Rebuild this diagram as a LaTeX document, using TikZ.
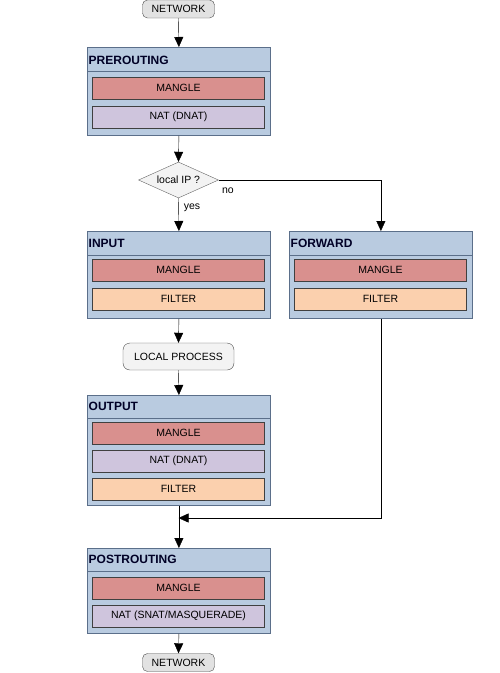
\documentclass[tikz,border=0pt]{standalone}
\usepackage{fontspec}
\setmainfont{Liberation Sans}
\usetikzlibrary{arrows.meta,shapes.geometric,positioning}
\definecolor{ipChain}{HTML}{B9CBE0}
\definecolor{ipBorder}{HTML}{5B6F8A}
\definecolor{ipMangle}{HTML}{D9908E}
\definecolor{ipNat}{HTML}{CFC5DD}
\definecolor{ipFilter}{HTML}{FBD0AE}
\definecolor{ipNet}{HTML}{E2E2E2}
\definecolor{ipProc}{HTML}{F3F3F3}

\tikzset{
  chainbox/.style={draw=ipBorder, fill=ipChain, thick, anchor=north west,
    minimum width=183pt, inner sep=0pt},
  chaintitle/.style={anchor=west, inner xsep=1.5pt, font=\fontsize{12}{14}\selectfont\bfseries, text=black!85!blue},
  tablebox/.style={draw=black!75, fill=#1, minimum width=172pt, minimum height=22pt,
    inner sep=0pt, font=\fontsize{10.5}{12}\selectfont},
  endpoint/.style={draw=black!70, fill=ipNet, rounded corners=5pt, minimum width=72pt,
    minimum height=18pt, inner sep=0pt, font=\fontsize{10.5}{12}\selectfont},
  flow/.style={draw=black, -{Triangle[length=10pt,width=9pt]}}
}

\begin{document}
\begin{tikzpicture}[x=1pt,y=-1pt]
  \useasboundingbox (0,0) rectangle (500,673);
  % network in
  \node[endpoint] (netin) at (178.5,9) {NETWORK};
  % prerouting
  \node[chainbox, minimum height=88pt] (pre) at (87,47) {};
  \draw[ipBorder, thick] (87,71) -- (270,71);
  \node[chaintitle] at (87,60) {PREROUTING};
  \node[tablebox=ipMangle] (preM) at (178.5,88) {MANGLE};
  \node[tablebox=ipNat] (preN) at (178.5,117) {NAT (DNAT)};
  % decision
  \node[diamond, draw=black!60, fill=ipProc, minimum width=80pt, minimum height=36pt,
    aspect=2.2, inner sep=1pt, font=\fontsize{10.5}{12}\selectfont] (dec) at (178.5,180) {local IP ?};
  \node[font=\fontsize{10.5}{12}\selectfont] (no) at (228,191) {no};
  \node[font=\fontsize{10.5}{12}\selectfont] (yes) at (192,208) {yes};
  % input
  \node[chainbox, minimum height=87pt] (in) at (87,231) {};
  \draw[ipBorder, thick] (87,255) -- (270,255);
  \node[chaintitle] at (87,243) {INPUT};
  \node[tablebox=ipMangle] (inM) at (178.5,270) {MANGLE};
  \node[tablebox=ipFilter] (inF) at (178.5,299) {FILTER};
  % forward
  \node[chainbox, minimum height=87pt] (fwd) at (289,231) {};
  \draw[ipBorder, thick] (289,255) -- (472,255);
  \node[chaintitle] at (289,243) {FORWARD};
  \node[tablebox=ipMangle] (fwdM) at (380.5,270) {MANGLE};
  \node[tablebox=ipFilter] (fwdF) at (380.5,299) {FILTER};
  % local process
  \node[endpoint, fill=ipProc, minimum width=111pt, minimum height=27pt, rounded corners=7pt] (proc) at (178.5,356.5) {LOCAL PROCESS};
  % output
  \node[chainbox, minimum height=110pt] (out) at (87,395) {};
  \draw[ipBorder, thick] (87,418) -- (270,418);
  \node[chaintitle] at (87,406) {OUTPUT};
  \node[tablebox=ipMangle] (outM) at (178.5,433) {MANGLE};
  \node[tablebox=ipNat] (outN) at (178.5,461) {NAT (DNAT)};
  \node[tablebox=ipFilter] (outF) at (178.5,489) {FILTER};
  % postrouting
  \node[chainbox, minimum height=85pt] (post) at (87,548) {};
  \draw[ipBorder, thick] (87,571) -- (270,571);
  \node[chaintitle] at (87,559) {POSTROUTING};
  \node[tablebox=ipMangle] (postM) at (178.5,588) {MANGLE};
  \node[tablebox=ipNat] (postN) at (178.5,616) {NAT (SNAT/MASQUERADE)};
  % network out
  \node[endpoint] (netout) at (178.5,662.5) {NETWORK};
  % connectors
  \coordinate (merge) at (178.5,518);
  \draw[flow] (netin.south) -- (pre.north);
  \draw[flow] (pre.south) -- (dec.north);
  \draw[flow] (dec.south) -- (in.north);
  \draw[flow] (dec.east) -| (fwd.north);
  \draw[flow] (in.south) -- (proc.north);
  \draw[flow] (proc.south) -- (out.north);
  \draw[flow] (out.south) -- (post.north);
  \draw[flow] (fwd.south) |- (merge);
  \draw[flow] (post.south) -- (netout.north);
\end{tikzpicture}
\end{document}
